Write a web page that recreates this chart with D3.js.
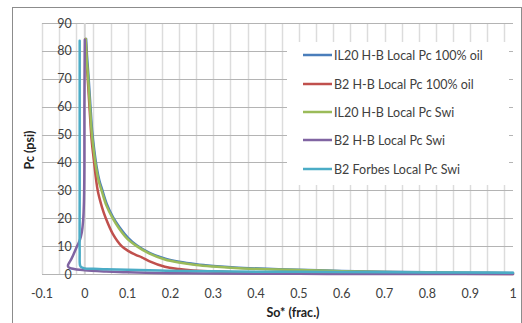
<!DOCTYPE html>
<html><head><meta charset="utf-8">
<script src="https://cdn.jsdelivr.net/npm/d3@7/dist/d3.min.js"></script>
<style>body{margin:0;background:#fff}svg{display:block}</style>
</head><body>
<svg id="c" width="522" height="323"></svg>
<script>
// ---- data ----
const xTicks = [-0.1, 0, 0.1, 0.2, 0.3, 0.4, 0.5, 0.6, 0.7, 0.8, 0.9, 1];
const xTickLabels = ["-0.1","0","0.1","0.2","0.3","0.4","0.5","0.6","0.7","0.8","0.9","1"];
const yTicks = [0, 10, 20, 30, 40, 50, 60, 70, 80, 90];
const seriesNames = ["IL20 H-B Local Pc 100% oil","B2 H-B Local Pc 100% oil","IL20 H-B Local Pc Swi","B2 H-B Local Pc Swi","B2 Forbes Local Pc Swi"];
const seriesColors = ["#4a7ebb","#c0504d","#9bbb59","#8064a2","#4bacc6"];

const il20OilSo = [0.003, 0.005, 0.009, 0.013, 0.017, 0.022, 0.028, 0.034, 0.04, 0.051, 0.066, 0.081, 0.101, 0.122, 0.151, 0.188, 0.22, 0.26, 0.3, 0.35, 0.426, 0.5, 0.6, 0.7, 0.8, 0.9, 1.0];
const il20OilPc = [84.3, 78.5, 70, 60.5, 51.5, 44.5, 38, 33.5, 30.5, 25.2, 20.3, 16.8, 13, 10.2, 7.6, 5.5, 4.4, 3.5, 2.9, 2.35, 1.85, 1.5, 1.1, 0.8, 0.6, 0.45, 0.35];

const b2OilSo = [0.002, 0.004, 0.008, 0.012, 0.016, 0.021, 0.03, 0.04, 0.049, 0.065, 0.086, 0.1, 0.12, 0.133, 0.15, 0.187, 0.22, 0.253, 0.3, 0.4, 0.5, 0.6, 0.8, 1.0];
const b2OilPc = [84.3, 77, 67, 57, 48, 41, 30, 24, 20, 14.5, 10, 8.4, 6.8, 6.0, 4.6, 2.6, 1.8, 1.3, 0.9, 0.45, 0.25, 0.15, 0.07, 0.02];

const il20SwiSo = [0.002, 0.004, 0.008, 0.012, 0.016, 0.021, 0.027, 0.033, 0.039, 0.05, 0.065, 0.08, 0.1, 0.121, 0.15, 0.187, 0.22, 0.26, 0.3, 0.35, 0.426, 0.5, 0.6, 0.7, 0.8, 0.9, 1.0];
const il20SwiPc = [84.3, 78, 69.5, 60, 51, 44, 37.5, 33, 30, 24.7, 20, 16.3, 12.5, 10, 7.4, 5.2, 4.1, 3.2, 2.65, 2.15, 1.7, 1.4, 1.0, 0.75, 0.55, 0.4, 0.3];

const b2SwiSo = [0.0, -0.001, -0.001, -0.002, -0.004, -0.007, -0.012, -0.018, -0.025, -0.031, -0.036, -0.039, -0.039, -0.034, -0.025, -0.012, 0.0, 0.05, 0.1, 0.2, 0.3, 0.5, 0.7, 1.0];
const b2SwiPc = [84, 60, 40, 26, 19, 15, 12, 10, 7.5, 5.5, 4.2, 3.3, 2.6, 2.1, 1.8, 1.5, 1.3, 0.9, 0.6, 0.3, 0.15, 0.05, 0.02, 0.0];

const forbesSo = [-0.012, -0.012, -0.012, -0.012, -0.011, -0.008, -0.004, 0.0, 0.02, 0.05, 0.1, 0.19, 0.3, 0.45, 0.6, 0.8, 1.0];
const forbesPc = [83.6, 60, 30, 8, 3.0, 2.4, 2.2, 2.0, 1.9, 1.7, 1.5, 1.2, 0.95, 0.8, 0.7, 0.55, 0.45];

const seriesX = [il20OilSo, b2OilSo, il20SwiSo, b2SwiSo, forbesSo];
const seriesY = [il20OilPc, b2OilPc, il20SwiPc, b2SwiPc, forbesPc];

// ---- drawing ----
const svg = d3.select("#c");
const x = d3.scaleLinear().domain([-0.1, 1]).range([42, 513]);
const y = d3.scaleLinear().domain([0, 90]).range([274, 23]);
const font = "Lato, 'Liberation Sans', Arial, sans-serif";
const txt = "#404040";

svg.append("rect").attr("x",12.5).attr("y",7.5).attr("width",509).attr("height",316)
  .attr("fill","#fff").attr("stroke","#8c8c8c").attr("stroke-width",1);

// vertical gridlines (every 0.04 from -0.1)
const vGrid = d3.range(0, 28).map(k => -0.1 + 0.04 * k);
svg.append("g").selectAll("line").data(vGrid).join("line")
  .attr("x1", d => Math.round(x(d)) + 0.5).attr("x2", d => Math.round(x(d)) + 0.5)
  .attr("y1", y(90)).attr("y2", y(0))
  .attr("stroke", "#dcdcdc").attr("stroke-width", 1.5);

// horizontal gridlines
svg.append("g").selectAll("line").data(yTicks).join("line")
  .attr("x1", x(-0.1)).attr("x2", x(1))
  .attr("y1", d => Math.round(y(d)) + 0.5).attr("y2", d => Math.round(y(d)) + 0.5)
  .attr("stroke", "#b4b4b4").attr("stroke-width", 1);

// vertical axis line at x = 0
svg.append("line").attr("x1", x(0)).attr("x2", x(0)).attr("y1", y(90)).attr("y2", y(0))
  .attr("stroke", "#d4d4d4").attr("stroke-width", 2);

// y tick labels (next to axis at x = 0)
svg.append("g").selectAll("text").data(yTicks).join("text")
  .attr("x", x(0) - 13).attr("y", d => y(d) + 4.5)
  .attr("text-anchor", "end").attr("font-family", font).attr("font-size", 12.5)
  .attr("fill", txt).text(d => d);

// x tick labels
svg.append("g").selectAll("text").data(xTicks).join("text")
  .attr("x", d => x(d)).attr("y", 298)
  .attr("text-anchor", "middle").attr("font-family", font).attr("font-size", 12.5)
  .attr("fill", txt).text((d, i) => xTickLabels[i]);

// axis titles
svg.append("text").attr("x", 293).attr("y", 317).attr("text-anchor", "middle")
  .attr("font-family", font).attr("font-size", 12.5).attr("font-weight", "bold")
  .attr("fill", "#222").text("So* (frac.)");
svg.append("text").attr("transform", "translate(34,150) rotate(-90)").attr("text-anchor", "middle")
  .attr("font-family", font).attr("font-size", 12.5).attr("font-weight", "bold")
  .attr("fill", "#222").text("Pc (psi)");

// series lines
const line = d3.line().x(d => x(d[0])).y(d => y(d[1])).curve(d3.curveCatmullRom.alpha(0.5));
seriesNames.forEach((name, i) => {
  const pts = seriesX[i].map((v, j) => [v, seriesY[i][j]]);
  svg.append("path").datum(pts).attr("d", line)
    .attr("fill", "none").attr("stroke", seriesColors[i]).attr("stroke-width", 2.5)
    .attr("stroke-linejoin", "round").attr("stroke-linecap", "round");
});

// legend
const lg = svg.append("g");
lg.append("rect").attr("x", 287).attr("y", 42).attr("width", 222).attr("height", 143).attr("fill", "#fff");
const legY = [55, 84, 112, 140, 169];
seriesNames.forEach((name, i) => {
  lg.append("line").attr("x1", 303).attr("x2", 332).attr("y1", legY[i]).attr("y2", legY[i])
    .attr("stroke", seriesColors[i]).attr("stroke-width", 2.5);
  lg.append("text").attr("x", 334).attr("y", legY[i] + 4.5).attr("font-family", font)
    .attr("font-size", 12.5).attr("fill", txt).text(name);
});
</script>
</body></html>
